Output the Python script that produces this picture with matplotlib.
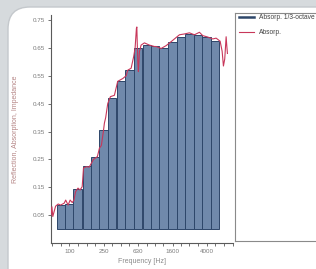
import numpy as np
import matplotlib
matplotlib.use("Agg")
import matplotlib.pyplot as plt
from matplotlib.patches import FancyBboxPatch
from matplotlib.lines import Line2D

plt.rcParams['font.family'] = ['Liberation Sans', 'DejaVu Sans']

# 1/3-octave band centres and absorption
bands = [80, 100, 125, 160, 200, 250, 315, 400, 500, 630, 800, 1000,
         1250, 1600, 2000, 2500, 3150, 4000, 5000]
absorp_third = [0.085, 0.09, 0.145, 0.225, 0.26, 0.355, 0.47, 0.53, 0.57, 0.65,
                0.66, 0.655, 0.65, 0.67, 0.69, 0.70, 0.697, 0.69, 0.675]

# narrowband absorption curve
freq = [61, 62.5, 64, 69, 74, 79, 87, 90.5, 96.6, 102, 108, 113, 118, 126, 133,
        141, 146, 159, 170, 181, 191, 212, 224, 236, 249, 256, 265, 280, 301,
        335, 366, 419, 459, 479, 525, 563, 584, 605, 612, 617, 628, 638, 656,
        686, 750, 858, 981, 1027, 1175, 1343, 1604, 1921, 2197, 2513, 2874,
        3287, 3593, 4108, 4698, 5148, 5732, 6049, 6263, 6486, 6736, 6845, 6974]
absorp = [0.05, 0.08, 0.045, 0.082, 0.09, 0.086, 0.093, 0.104, 0.086, 0.104,
          0.095, 0.104, 0.134, 0.147, 0.14, 0.152, 0.219, 0.224, 0.222, 0.237,
          0.25, 0.26, 0.29, 0.30, 0.35, 0.38, 0.40, 0.45, 0.475, 0.48, 0.53,
          0.54, 0.55, 0.57, 0.577, 0.62, 0.65, 0.72, 0.725, 0.68, 0.60, 0.565,
          0.637, 0.66, 0.668, 0.66, 0.655, 0.655, 0.648, 0.658, 0.677, 0.697,
          0.70, 0.704, 0.697, 0.706, 0.694, 0.689, 0.682, 0.685, 0.674, 0.638,
          0.585, 0.61, 0.69, 0.66, 0.63]

tick_freqs = [63, 80, 100, 125, 160, 200, 250, 315, 400, 500, 630, 800, 1000,
              1250, 1600, 2000, 2500, 3150, 4000, 5000, 6300, 8000]
tick_labels = ['100', '250', '630', '1600', '4000']
yticks = [0.05, 0.15, 0.25, 0.35, 0.45, 0.55, 0.65, 0.75]

W, H = 316, 269
fig = plt.figure(figsize=(W / 100, H / 100), dpi=100)
fig.patch.set_facecolor('#d6dadd')

# white rounded panel behind everything
panel = FancyBboxPatch((8, -30), 360, 292, boxstyle="round,pad=0,rounding_size=22",
                       transform=None, facecolor='white', edgecolor='#c4c8cc',
                       linewidth=1.0, zorder=-10)
fig.patches.append(panel)

ax = fig.add_axes([51 / W, 1 - 243 / H, (233 - 51) / W, (243 - 15) / H])
ax.set_facecolor('none')

b = np.array(bands, dtype=float)
lo = b / 2 ** (1 / 6)
hi = b * 2 ** (1 / 6)
ax.bar(lo, absorp_third, width=hi - lo, align='edge', color='#7089ab',
       edgecolor='#2d4669', linewidth=0.7, zorder=2)
ax.plot(freq, absorp, color='#c8375a', linewidth=0.8, zorder=3)

ax.set_xscale('log')
ax.set_xlim(61, 8100)
ax.set_ylim(-0.05, 0.768)
ax.set_xticks(tick_freqs)
ax.set_xticklabels([str(f) if str(f) in tick_labels else '' for f in tick_freqs])
ax.xaxis.set_minor_locator(matplotlib.ticker.NullLocator())
ax.set_yticks(yticks)
ax.set_yticklabels([f'{v:.2f}' for v in yticks])

for s in ['top', 'right']:
    ax.spines[s].set_visible(False)
for s in ['left', 'bottom']:
    ax.spines[s].set_color('#5a5a5a')
    ax.spines[s].set_linewidth(0.8)
ax.tick_params(direction='out', length=2.5, width=0.6, color='#5a5a5a',
               labelsize=4.5, labelcolor='#7a7a7a', pad=2)

ax.set_xlabel('Frequency [Hz]', fontsize=5, color='#8a8a8a', labelpad=3)
ax.set_ylabel('Reflection, Absorption, Impedance', fontsize=5, color='#b58585',
              labelpad=10)

# legend box
lax = fig.add_axes([235 / W, 1 - 241 / H, 0.3, (241 - 13) / H])
lax.set_xticks([])
lax.set_yticks([])
lax.set_facecolor('white')
for s in lax.spines.values():
    s.set_color('#8a8a8a')
    s.set_linewidth(0.8)
handles = [Line2D([], [], color='#2d4669', linewidth=1.8),
           Line2D([], [], color='#c8375a', linewidth=0.8)]
lax.legend(handles, ['Absorp. 1/3-octave', 'Absorp.'], loc='upper left',
           bbox_to_anchor=(-0.02, 1.02), frameon=False, fontsize=4.8,
           handlelength=2.2, handletextpad=0.8, labelspacing=1.2,
           labelcolor='#404040')

fig.savefig('out.png', dpi=100)
